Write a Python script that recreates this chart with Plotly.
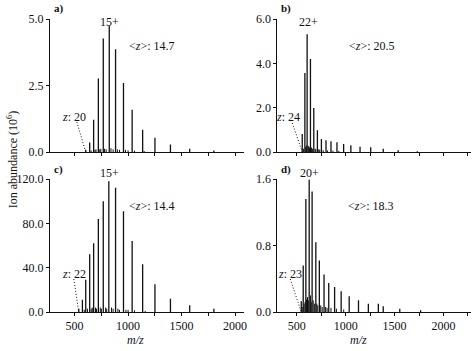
import plotly.graph_objects as go

# ---------------- data ----------------
# panel a
a_mz = [604, 641, 678, 722, 768, 824, 883, 957, 1038, 1136, 1251, 1396, 1576, 1802]
a_ab = [0.08, 0.36, 1.21, 2.76, 4.27, 4.75, 3.86, 2.59, 1.59, 0.84, 0.54, 0.28, 0.12, 0.06]
a_minor_mz = [655, 690, 700, 735, 745, 780, 795, 840, 860, 900, 920, 975, 1000, 1060, 1150]
a_minor_ab = [0.06, 0.08, 0.10, 0.10, 0.12, 0.12, 0.10, 0.14, 0.10, 0.10, 0.08, 0.08, 0.06, 0.05, 0.04]

# panel b
b_mz = [556, 583, 606, 640, 674, 711, 752, 799, 850, 911, 979, 1053, 1147, 1256, 1384, 1537, 1732]
b_ab = [0.81, 3.56, 5.31, 4.19, 1.98, 0.98, 0.59, 0.53, 0.48, 0.44, 0.36, 0.30, 0.24, 0.21, 0.15, 0.08, 0.03]
b_minor_mz = [570, 592, 598, 615, 622, 630, 650, 660, 688, 695, 725, 735, 770, 815, 870, 930]
b_minor_ab = [0.15, 0.22, 0.30, 0.28, 0.25, 0.20, 0.20, 0.15, 0.15, 0.12, 0.12, 0.10, 0.08, 0.07, 0.06, 0.05]

# panel c
c_mz = [539, 573, 604, 641, 678, 722, 768, 820, 883, 957, 1038, 1136, 1251, 1396, 1576, 1802]
c_ab = [3, 11, 29, 52, 62, 84, 100, 118, 112, 91, 64, 43, 25, 12, 6, 3]
c_minor_mz = [590, 620, 655, 665, 695, 705, 740, 750, 790, 800, 845, 860, 905, 920, 980, 1000, 1060, 1160]
c_minor_ab = [2, 3, 3, 4, 4, 3, 4, 3, 4, 3, 4, 3, 3, 2, 2, 2, 1.5, 1]

# panel d
d_mz = [546, 566, 593, 627, 657, 695, 731, 779, 827, 887, 954, 1036, 1131, 1232, 1334, 1384, 1553, 1766]
d_ab = [0.13, 0.56, 1.36, 1.59, 1.45, 0.84, 0.62, 0.45, 0.35, 0.30, 0.25, 0.19, 0.14, 0.10, 0.10, 0.07, 0.04, 0.02]
d_minor_mz = [556, 575, 585, 600, 610, 618, 640, 648, 668, 680, 705, 715, 745, 760, 795, 810, 850, 905, 980]
d_minor_ab = [0.06, 0.10, 0.12, 0.15, 0.18, 0.14, 0.20, 0.12, 0.14, 0.10, 0.10, 0.08, 0.08, 0.06, 0.06, 0.05, 0.05, 0.04, 0.03]

panel_letters = ["a)", "b)", "c)", "d)"]
peak_labels = ["15+", "22+", "15+", "20+"]
avg_z = ["14.7", "20.5", "14.4", "18.3"]
low_z = ["20", "24", "22", "23"]

y_ranges = [[0, 5], [0, 6], [0, 120], [0, 1.6]]
y_ticks = [[0, 2.5, 5.0], [0, 2, 4, 6], [0, 40, 80, 120], [0, 0.8, 1.6]]

FONT = "Liberation Serif"
INK = "#111111"
FS = 12      # tick labels and axis titles
FA = 11      # in-panel annotations

def stems(mz, ab):
    xs, ys = [], []
    for m, h in zip(mz, ab):
        xs += [m, m, None]
        ys += [0, h, None]
    return xs, ys

fig = go.Figure()

panels = [(a_mz, a_ab, a_minor_mz, a_minor_ab),
          (b_mz, b_ab, b_minor_mz, b_minor_ab),
          (c_mz, c_ab, c_minor_mz, c_minor_ab),
          (d_mz, d_ab, d_minor_mz, d_minor_ab)]

for i, (mz, ab, mmz, mab) in enumerate(panels):
    xa = "x" if i == 0 else f"x{i+1}"
    ya = "y" if i == 0 else f"y{i+1}"
    xs, ys = stems(mmz, mab)
    fig.add_trace(go.Scatter(x=xs, y=ys, mode="lines", line=dict(color=INK, width=1),
                             xaxis=xa, yaxis=ya, showlegend=False, hoverinfo="skip"))
    xs, ys = stems(mz, ab)
    fig.add_trace(go.Scatter(x=xs, y=ys, mode="lines", line=dict(color=INK, width=1.3),
                             xaxis=xa, yaxis=ya, showlegend=False))

W, H = 474, 351
ML, MR, MT, MB = 50, 0, 19, 39
PW, PH = W - ML - MR, H - MT - MB

def px(xp):
    return (xp - ML) / PW

def py(yp):
    return (H - MB - yp) / PH

left_dom = [0, px(245)]
right_dom = [px(279), 1]
top_dom = [py(152), 1]
bot_dom = [0, py(179)]
x_left_range = [270, 2080]
x_right_range = [302, 2281]

doms = [(left_dom, top_dom, x_left_range), (right_dom, top_dom, x_right_range),
        (left_dom, bot_dom, x_left_range), (right_dom, bot_dom, x_right_range)]

layout = dict(
    width=W, height=H,
    margin=dict(l=ML, r=MR, t=MT, b=MB),
    paper_bgcolor="white", plot_bgcolor="white",
    font=dict(family=FONT, size=FS, color=INK),
    showlegend=False,
)
for i, (xd, yd, xr) in enumerate(doms):
    xk = "xaxis" if i == 0 else f"xaxis{i+1}"
    yk = "yaxis" if i == 0 else f"yaxis{i+1}"
    ya = "y" if i == 0 else f"y{i+1}"
    xa = "x" if i == 0 else f"x{i+1}"
    layout[xk] = dict(domain=xd, anchor=ya, range=xr, showgrid=False, zeroline=False,
                      showline=True, linecolor=INK, linewidth=1,
                      ticks="outside", ticklen=3, tickcolor=INK, tickwidth=1,
                      tickvals=[500, 1000, 1500, 2000],
                      minor=dict(dtick=250, tick0=0, ticks="outside", ticklen=3, tickcolor=INK),
                      showticklabels=(i >= 2), tickfont=dict(family=FONT, size=FS, color=INK))
    layout[yk] = dict(domain=yd, anchor=xa, range=y_ranges[i], showgrid=False, zeroline=False,
                      showline=True, linecolor=INK, linewidth=1,
                      ticks="outside", ticklen=3, tickcolor=INK, tickwidth=1,
                      tickvals=y_ticks[i], tickformat=".1f",
                      tickfont=dict(family=FONT, size=FS, color=INK))
fig.update_layout(**layout)

# annotation positions (pixels in the 474x351 frame)
letter_px = [(59, 9), (288, 9), (59, 169), (288, 169)]
peak_px = [(110, 22), (310, 22), (110, 173), (311, 173)]
avg_px = [(153, 46), (374, 46), (153, 206), (373, 206)]
lowz_px = [(74, 117), (290, 117), (74, 274), (292, 274)]
dot_px = [(77, 122), (294, 123), (74, 279), (292, 279)]

def to_data(i, xp, yp):
    xd, yd, xr = doms[i]
    yr = y_ranges[i]
    x0p = ML + xd[0] * PW
    x1p = ML + xd[1] * PW
    y0p = H - MB - yd[0] * PH
    y1p = H - MB - yd[1] * PH
    xv = xr[0] + (xp - x0p) / (x1p - x0p) * (xr[1] - xr[0])
    yv = yr[0] + (y0p - yp) / (y0p - y1p) * (yr[1] - yr[0])
    return xv, yv

ann = []
shapes = []
for i in range(4):
    xa = "x" if i == 0 else f"x{i+1}"
    ya = "y" if i == 0 else f"y{i+1}"
    ann.append(dict(x=px(letter_px[i][0]), y=py(letter_px[i][1]), xref="paper", yref="paper",
                    xanchor="center", yanchor="middle", text=f"<b>{panel_letters[i]}</b>",
                    showarrow=False, font=dict(family=FONT, size=FA, color=INK)))
    ann.append(dict(x=px(peak_px[i][0]), y=py(peak_px[i][1]), xref="paper", yref="paper",
                    xanchor="center", yanchor="middle", text=peak_labels[i],
                    showarrow=False, font=dict(family=FONT, size=FA + 1, color=INK)))
    ann.append(dict(x=px(avg_px[i][0]), y=py(avg_px[i][1]), xref="paper", yref="paper",
                    xanchor="center", yanchor="middle",
                    text=f"&lt;<i>z</i>&gt;: {avg_z[i]}",
                    showarrow=False, font=dict(family=FONT, size=FA + 1, color=INK)))
    ann.append(dict(x=px(lowz_px[i][0]), y=py(lowz_px[i][1]), xref="paper", yref="paper",
                    xanchor="center", yanchor="middle",
                    text=f"<i>z</i>: {low_z[i]}",
                    showarrow=False, font=dict(family=FONT, size=FA + 1, color=INK)))
    first_mz = panels[i][0][0]
    sx, sy = to_data(i, *dot_px[i])
    shapes.append(dict(type="line", xref=xa, yref=ya, x0=sx, y0=sy,
                       x1=first_mz, y1=0, line=dict(color=INK, width=1, dash="1px,2px")))

ann.append(dict(x=px(12), y=py(160), xref="paper", yref="paper", text="Ion abundance (10<sup>6</sup>)",
                xanchor="center", yanchor="middle",
                textangle=-90, showarrow=False, font=dict(family=FONT, size=FS, color=INK)))
for cx in (136, 361):
    ann.append(dict(x=px(cx), y=py(340), xref="paper", yref="paper", text="<i>m/z</i>",
                    xanchor="center", yanchor="middle",
                    showarrow=False, font=dict(family=FONT, size=FS, color=INK)))

fig.update_layout(annotations=ann, shapes=shapes)
fig.write_html("out.html")
